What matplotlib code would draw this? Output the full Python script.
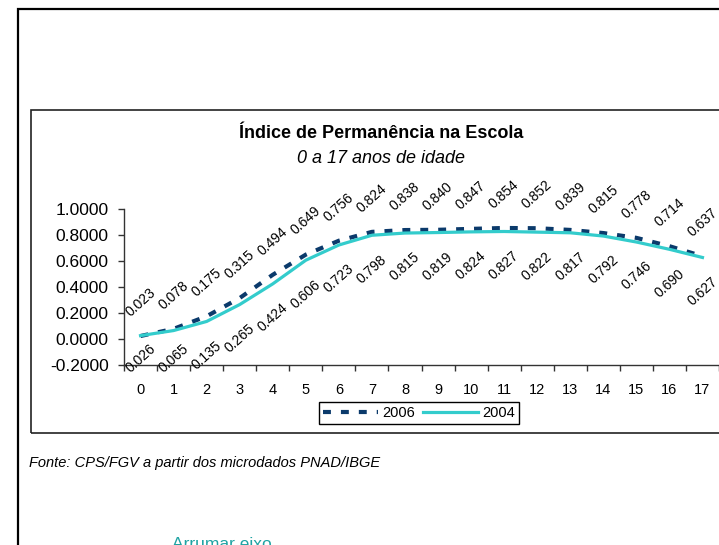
#!/usr/bin/env python3

import matplotlib
matplotlib.use('Agg')
import matplotlib.pyplot as plt
from matplotlib.patches import Rectangle
from matplotlib.ticker import FixedLocator, FormatStrFormatter

plt.rcParams['font.family'] = ['Liberation Sans', 'DejaVu Sans']
plt.rcParams['axes.unicode_minus'] = False

ages = list(range(18))
idx_2006 = [0.023, 0.078, 0.175, 0.315, 0.494, 0.649, 0.756, 0.824, 0.838,
            0.840, 0.847, 0.854, 0.852, 0.839, 0.815, 0.778, 0.714, 0.637]
idx_2004 = [0.026, 0.065, 0.135, 0.265, 0.424, 0.606, 0.723, 0.798, 0.815,
            0.819, 0.824, 0.827, 0.822, 0.817, 0.792, 0.746, 0.690, 0.627]

title = 'Índice de Permanência na Escola'
subtitle = '0 a 17 anos de idade'
source = 'Fonte: CPS/FGV a partir dos microdados PNAD/IBGE'
note = 'Arrumar eixo'

W, H = 719, 545
fig = plt.figure(figsize=(W / 100, H / 100), dpi=100)


def fx(px):
    return px / W


def fy(py):
    return 1 - py / H


# outer and inner frames (figure pixel space)
fig.patches.append(Rectangle((fx(18), fy(560)), fx(760), 551 / H,
                             transform=fig.transFigure, fill=False,
                             edgecolor='black', lw=1.6))
fig.patches.append(Rectangle((fx(31), fy(433)), fx(720), 323 / H,
                             transform=fig.transFigure, fill=False,
                             edgecolor='#222222', lw=1.2))

ax = fig.add_axes([fx(124), fy(365), (719 - 124) / W, 156 / H])
ax.set_xlim(-0.5, 17.5)
ax.set_ylim(-0.2, 1.0)
for s in ('top', 'right'):
    ax.spines[s].set_visible(False)
for s in ('left', 'bottom'):
    ax.spines[s].set_color('#333333')
    ax.spines[s].set_linewidth(1.0)

ax.plot(ages, idx_2006, color='#0B3A6B', lw=3, linestyle=(0, (1.9, 2.4)),
        label='2006', zorder=2)
ax.plot(ages, idx_2004, color='#33CCCC', lw=2.3, label='2004', zorder=3)

# data labels: 2006 above the line, 2004 below (kept inside the plot)
off = 0.26
for x, v in zip(ages, idx_2006):
    ax.text(x, v + off, '{:.3f}'.format(v), rotation=42, fontsize=10,
            ha='center', va='center', rotation_mode='anchor', clip_on=False)
for x, v in zip(ages, idx_2004):
    ax.text(x, max(v - off, -0.148), '{:.3f}'.format(v), rotation=42,
            fontsize=10, ha='center', va='center', rotation_mode='anchor',
            clip_on=False)

ax.set_yticks([-0.2, 0.0, 0.2, 0.4, 0.6, 0.8, 1.0])
ax.yaxis.set_major_formatter(FormatStrFormatter('%.4f'))
ax.tick_params(axis='y', direction='out', length=4, width=1, pad=7,
               labelsize=12.5, color='#333333')

ax.set_xticks(ages)
ax.set_xticklabels([str(a) for a in ages])
ax.xaxis.set_minor_locator(FixedLocator([a + 0.5 for a in range(-1, 18)]))
ax.tick_params(axis='x', which='major', length=0, pad=13, labelsize=10.5)
ax.tick_params(axis='x', which='minor', direction='out', length=4, width=1,
               color='#333333')

fig.text(fx(381), fy(138), title, ha='center', va='baseline',
         fontsize=13, fontweight='bold')
fig.text(fx(381), fy(163), subtitle, ha='center', va='baseline',
         fontsize=13, style='italic')

leg = fig.legend(loc='center', bbox_to_anchor=(fx(419), fy(413)), ncol=2,
                 fontsize=10.5, handlelength=3.8, handletextpad=0.3,
                 columnspacing=0.5, borderpad=0.25, fancybox=False,
                 framealpha=1, edgecolor='black')
leg.get_frame().set_linewidth(1.0)

fig.text(fx(29), fy(467), source, ha='left', va='baseline', fontsize=10.5,
         style='italic')
fig.text(fx(172), fy(537), note, ha='left', va='top', fontsize=12.5,
         color='#1FA3A3')

fig.savefig('out.png', dpi=100)
